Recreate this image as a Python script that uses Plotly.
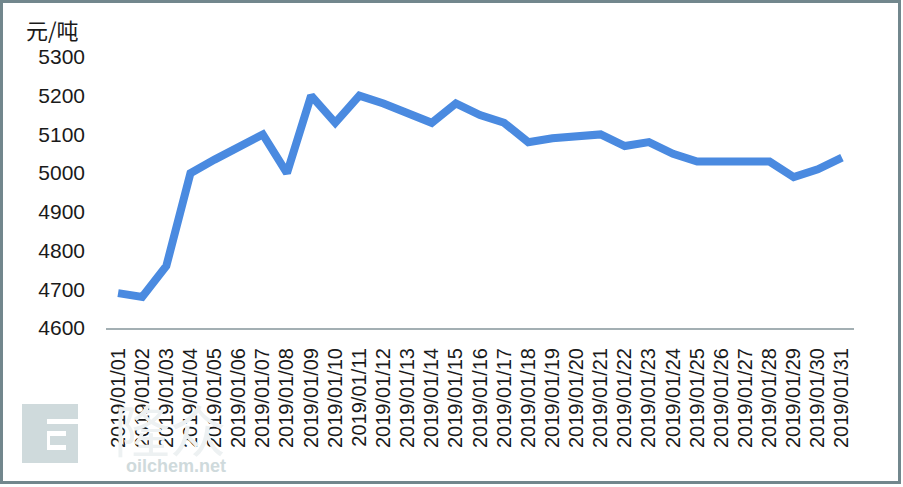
import plotly.graph_objects as go

dates = [
    "2019/01/01", "2019/01/02", "2019/01/03", "2019/01/04", "2019/01/05",
    "2019/01/06", "2019/01/07", "2019/01/08", "2019/01/09", "2019/01/10",
    "2019/01/11", "2019/01/12", "2019/01/13", "2019/01/14", "2019/01/15",
    "2019/01/16", "2019/01/17", "2019/01/18", "2019/01/19", "2019/01/20",
    "2019/01/21", "2019/01/22", "2019/01/23", "2019/01/24", "2019/01/25",
    "2019/01/26", "2019/01/27", "2019/01/28", "2019/01/29", "2019/01/30",
    "2019/01/31",
]
prices = [
    4690, 4680, 4760, 5000, 5035, 5070, 5100, 5000, 5200, 5130,
    5200, 5180, 5155, 5130, 5180, 5150, 5130, 5080, 5090, 5095,
    5100, 5070, 5080, 5050, 5030, 5030, 5030, 5030, 4990, 5010,
    5040,
]
y_ticks = [4600, 4700, 4800, 4900, 5000, 5100, 5200, 5300]
unit_label = "元/吨"
watermark_text = "oilchem.net"
watermark_cn = "隆众"

W, H = 903, 487
ML, MR, MT, MB = 106, 49, 57, 159
PW = W - ML - MR
PH = H - MT - MB


def px(x):
    return (x - ML) / PW


def py(y):
    return (H - MB - y) / PH


fig = go.Figure()
fig.add_trace(go.Scatter(
    x=dates, y=prices, mode="lines",
    line=dict(color="#4a8ae0", width=8),
    hoverinfo="x+y", showlegend=False,
))

wm = "#cfdadc"
shapes = [
    # outer border
    dict(type="rect", xref="paper", yref="paper",
         x0=px(1.5), x1=px(W - 3.5), y0=py(H - 4.5), y1=py(1.5),
         line=dict(color="#72878d", width=3), fillcolor="rgba(0,0,0,0)", layer="above"),
    # watermark logo block
    dict(type="rect", xref="paper", yref="paper",
         x0=px(22), x1=px(78), y0=py(463), y1=py(404),
         line=dict(width=0), fillcolor=wm, layer="below"),
    dict(type="rect", xref="paper", yref="paper",
         x0=px(47), x1=px(78), y0=py(424), y1=py(419),
         line=dict(width=0), fillcolor="white", layer="below"),
    dict(type="rect", xref="paper", yref="paper",
         x0=px(47), x1=px(66), y0=py(450), y1=py(431),
         line=dict(width=0), fillcolor="white", layer="below"),
    dict(type="rect", xref="paper", yref="paper",
         x0=px(50), x1=px(66), y0=py(445), y1=py(436),
         line=dict(width=0), fillcolor=wm, layer="below"),
]

annotations = [
    dict(text=unit_label, xref="paper", yref="paper", x=px(24), y=py(29),
         xanchor="left", yanchor="middle", showarrow=False,
         font=dict(family="Noto Sans CJK SC", size=22, color="#1a1a1a")),
    dict(text=watermark_cn, xref="paper", yref="paper", x=px(170), y=py(428),
         xanchor="center", yanchor="middle", showarrow=False,
         font=dict(family="Noto Sans CJK SC", size=56, color="#edf1f2")),
    dict(text="<b>" + watermark_text + "</b>", xref="paper", yref="paper",
         x=px(176), y=py(466), xanchor="center", yanchor="middle", showarrow=False,
         font=dict(family="Liberation Sans", size=18, color=wm)),
]

fig.update_layout(
    width=W, height=H,
    margin=dict(l=ML, r=MR, t=MT, b=MB, pad=0),
    paper_bgcolor="white", plot_bgcolor="rgba(0,0,0,0)",
    shapes=shapes, annotations=annotations,
    font=dict(family="Liberation Sans", color="#1a1a1a"),
    xaxis=dict(
        type="category", range=[-0.5, len(dates) - 0.5],
        showgrid=False, zeroline=False,
        showline=True, linecolor="#a3afb3", linewidth=2,
        ticks="", tickangle=-90, tickfont=dict(size=20, color="#1a1a1a"),
        ticklabelstandoff=10, fixedrange=True,
    ),
    yaxis=dict(
        range=[4600, 5300], tickvals=y_ticks, ticktext=[str(v) for v in y_ticks],
        showgrid=False, zeroline=False, showline=False,
        ticks="", tickfont=dict(size=21, color="#1a1a1a"),
        ticklabelstandoff=20, fixedrange=True,
    ),
)

fig.write_html(
    "out.html",
    config={"displayModeBar": False},
    post_script="document.body.style.margin='0px';document.body.style.padding='0px';",
)
